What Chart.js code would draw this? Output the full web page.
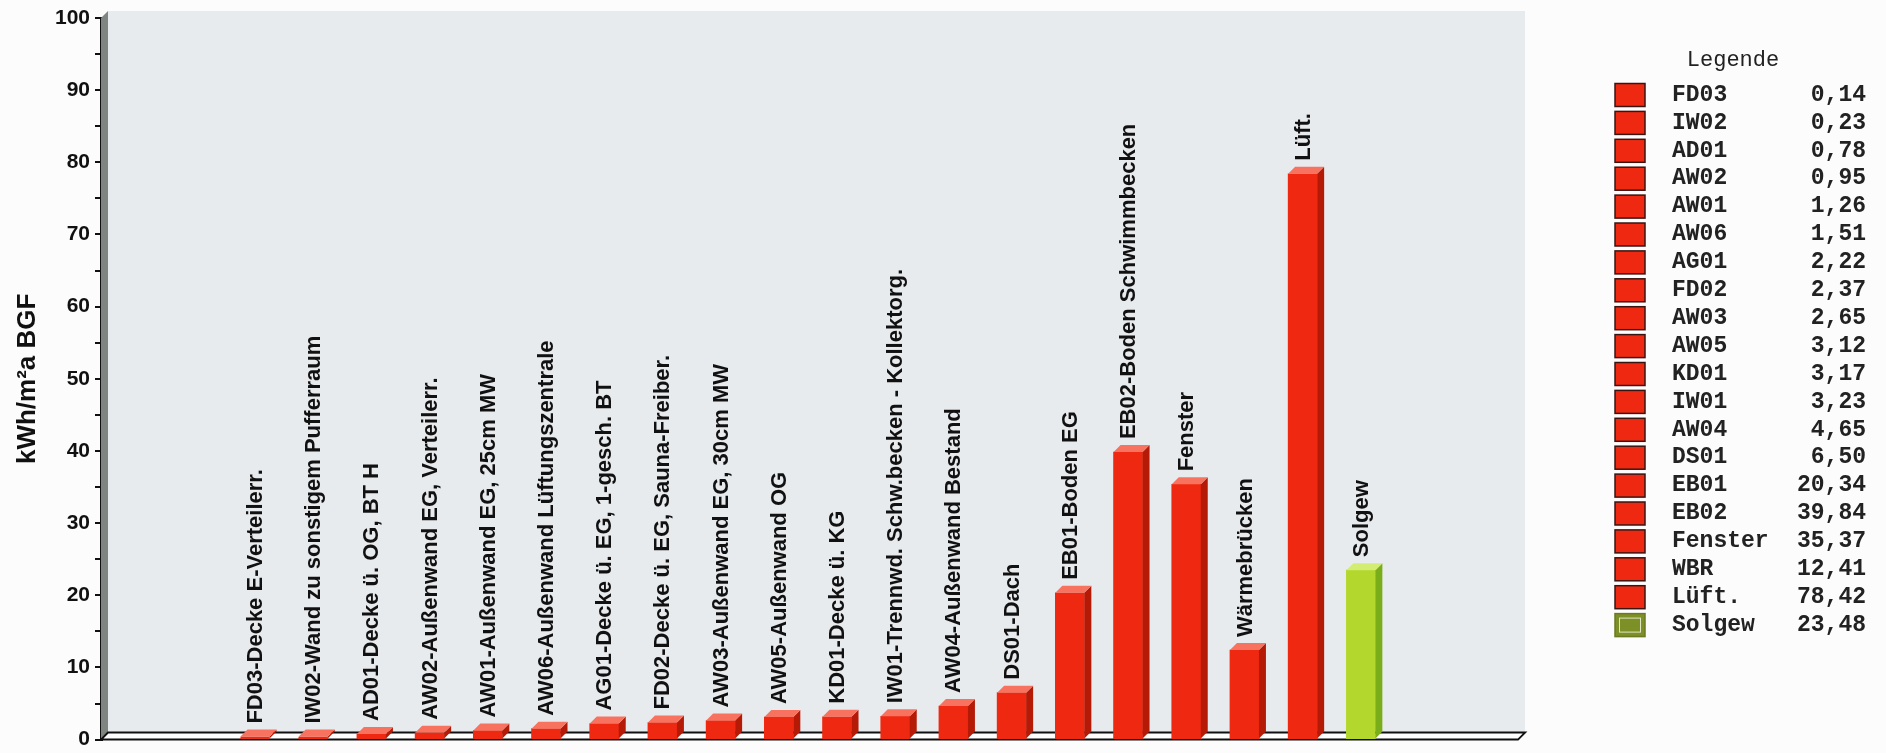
<!DOCTYPE html>
<html>
<head>
<meta charset="utf-8">
<title>Energiebilanz Bauteile</title>
<script src="https://cdn.jsdelivr.net/npm/chart.js@4.4.1/dist/chart.umd.min.js"></script>
<style>
  html, body { margin: 0; padding: 0; background: #fcfcfc; }
  #wrap { width: 1886px; height: 753px; position: relative; }
</style>
</head>
<body>
<div id="wrap"><canvas id="grafico"></canvas></div>
<script>
// Beschriftungen über den Balken
const bauteile = [
  'FD03-Decke E-Verteilerr.',
  'IW02-Wand zu sonstigem Pufferraum',
  'AD01-Decke ü. OG, BT H',
  'AW02-Außenwand EG, Verteilerr.',
  'AW01-Außenwand EG, 25cm MW',
  'AW06-Außenwand Lüftungszentrale',
  'AG01-Decke ü. EG, 1-gesch. BT',
  'FD02-Decke ü. EG, Sauna-Freiber.',
  'AW03-Außenwand EG, 30cm MW',
  'AW05-Außenwand OG',
  'KD01-Decke ü. KG',
  'IW01-Trennwd. Schw.becken - Kollektorg.',
  'AW04-Außenwand Bestand',
  'DS01-Dach',
  'EB01-Boden EG',
  'EB02-Boden Schwimmbecken',
  'Fenster',
  'Wärmebrücken',
  'Lüft.',
  'Solgew'
];
// Kurzbezeichnungen in der Legende
const kuerzel = ['FD03', 'IW02', 'AD01', 'AW02', 'AW01', 'AW06', 'AG01', 'FD02', 'AW03', 'AW05',
  'KD01', 'IW01', 'AW04', 'DS01', 'EB01', 'EB02', 'Fenster', 'WBR', 'Lüft.', 'Solgew'];
// kWh/m²a BGF
const werte = [0.14, 0.23, 0.78, 0.95, 1.26, 1.51, 2.22, 2.37, 2.65, 3.12,
  3.17, 3.23, 4.65, 6.50, 20.34, 39.84, 35.37, 12.41, 78.42, 23.48];
// true = Gewinn (grün), false = Verlust (rot)
const gewinn = [false, false, false, false, false, false, false, false, false, false,
  false, false, false, false, false, false, false, false, false, true];
const yTicks = [0, 10, 20, 30, 40, 50, 60, 70, 80, 90, 100];

const TIEFE = 7; // 3D-Versatz
const farben = {
  rot:  { front: '#ef2911', seite: '#b51a07', oben: '#f7735f' },
  gruen: { front: '#b3d72d', seite: '#79ad19', oben: '#d3ec72' }
};
const schrift = "'Liberation Sans', Arial, sans-serif";
const mono = "'Liberation Mono', 'Courier New', monospace";

const kulisse = {
  id: 'kulisse',
  beforeDatasetsDraw(chart) {
    const { ctx, chartArea: a } = chart;
    const d = TIEFE;
    ctx.save();
    // Rückwand
    ctx.fillStyle = '#e8ebee';
    ctx.fillRect(a.left + d, a.top - d, a.right - a.left, a.bottom - a.top);
    // linke Seitenwand
    ctx.fillStyle = '#7f8580';
    ctx.beginPath();
    ctx.moveTo(a.left, a.top);
    ctx.lineTo(a.left + d, a.top - d);
    ctx.lineTo(a.left + d, a.bottom - d);
    ctx.lineTo(a.left, a.bottom);
    ctx.closePath();
    ctx.fill();
    // Boden
    ctx.fillStyle = '#ffffff';
    ctx.strokeStyle = '#111';
    ctx.lineWidth = 2;
    ctx.beginPath();
    ctx.moveTo(a.left, a.bottom);
    ctx.lineTo(a.left + d, a.bottom - d);
    ctx.lineTo(a.right + d, a.bottom - d);
    ctx.lineTo(a.right, a.bottom);
    ctx.closePath();
    ctx.fill();
    ctx.stroke();
    ctx.restore();
  },
  afterDatasetsDraw(chart) {
    const { ctx } = chart;
    const meta = chart.getDatasetMeta(0);
    const d = TIEFE;
    ctx.save();
    meta.data.forEach((bar, i) => {
      const f = gewinn[i] ? farben.gruen : farben.rot;
      const w = bar.width / 2;
      const top = Math.min(bar.y, bar.base - 2);
      // Seite
      ctx.fillStyle = f.seite;
      ctx.beginPath();
      ctx.moveTo(bar.x + w, top);
      ctx.lineTo(bar.x + w + d, top - d);
      ctx.lineTo(bar.x + w + d, bar.base - d);
      ctx.lineTo(bar.x + w, bar.base);
      ctx.closePath();
      ctx.fill();
      // Deckel
      ctx.fillStyle = f.oben;
      ctx.beginPath();
      ctx.moveTo(bar.x - w, top);
      ctx.lineTo(bar.x - w + d, top - d);
      ctx.lineTo(bar.x + w + d, top - d);
      ctx.lineTo(bar.x + w, top);
      ctx.closePath();
      ctx.fill();
      if (top !== bar.y) {
        ctx.fillStyle = f.front;
        ctx.fillRect(bar.x - w, top, bar.width, bar.base - top);
      }
      // Beschriftung
      ctx.save();
      ctx.translate(bar.x + 1, top - 13);
      ctx.rotate(-Math.PI / 2);
      ctx.fillStyle = '#111';
      ctx.font = 'bold 22px ' + schrift;
      ctx.textAlign = 'left';
      ctx.textBaseline = 'middle';
      ctx.fillText(bauteile[i], 0, 0);
      ctx.restore();
    });
    ctx.restore();
  },
  afterDraw(chart) {
    const { ctx } = chart;
    ctx.save();
    ctx.fillStyle = '#222';
    ctx.font = '22px ' + mono;
    ctx.textAlign = 'center';
    ctx.textBaseline = 'middle';
    ctx.fillText('Legende', 1733, 60);
    ctx.font = 'bold 23px ' + mono;
    kuerzel.forEach((k, i) => {
      const y = 95 + i * 27.9;
      const f = gewinn[i] ? '#7d8f27' : farben.rot.front;
      ctx.fillStyle = f;
      ctx.fillRect(1615, y - 11.5, 30, 23);
      ctx.strokeStyle = gewinn[i] ? '#6b7a20' : '#3a1410';
      ctx.lineWidth = 1.5;
      ctx.strokeRect(1615, y - 11.5, 30, 23);
      if (gewinn[i]) {
        ctx.strokeStyle = '#dfe6bf';
        ctx.lineWidth = 1;
        ctx.strokeRect(1619.5, y - 7, 21, 14);
      }
      ctx.fillStyle = '#222';
      ctx.textAlign = 'left';
      ctx.fillText(k, 1672, y);
      ctx.textAlign = 'right';
      ctx.fillText(werte[i].toFixed(2).replace('.', ','), 1866, y);
    });
    ctx.restore();
  }
};

const ctx = document.getElementById('grafico').getContext('2d');
new Chart(ctx, {
  type: 'bar',
  data: {
    datasets: [{
      label: 'kWh/m²a BGF',
      data: werte.map((v, i) => ({ x: i + 1, y: v })),
      backgroundColor: gewinn.map(g => g ? farben.gruen.front : farben.rot.front),
      borderWidth: 0,
      barThickness: 29
    }]
  },
  options: {
    responsive: true,
    maintainAspectRatio: false,
    animation: false,
    layout: { padding: { left: 0, top: 18, right: 368, bottom: 0 } },
    plugins: {
      legend: { display: false },
      tooltip: { enabled: false }
    },
    scales: {
      x: {
        type: 'linear',
        display: false,
        offset: false,
        min: -1.646,
        max: 22.70
      },
      y: {
        min: 0,
        max: 100,
        afterFit(scale) { scale.width = 101; },
        ticks: {
          stepSize: 5,
          padding: 5,
          color: '#111',
          font: { family: schrift, size: 21, weight: 'bold', lineHeight: 0.8 },
          callback: v => (yTicks.includes(v) ? v : '')
        },
        grid: {
          drawOnChartArea: false,
          drawTicks: true,
          tickLength: 6,
          color: '#111',
          lineWidth: 2
        },
        border: { display: true, color: '#111', width: 3 },
        title: {
          display: true,
          text: 'kWh/m²a BGF',
          color: '#111',
          font: { family: schrift, size: 26, weight: 'bold' },
          padding: { top: 12, bottom: 0 }
        }
      }
    }
  },
  plugins: [kulisse]
});
</script>
</body>
</html>
